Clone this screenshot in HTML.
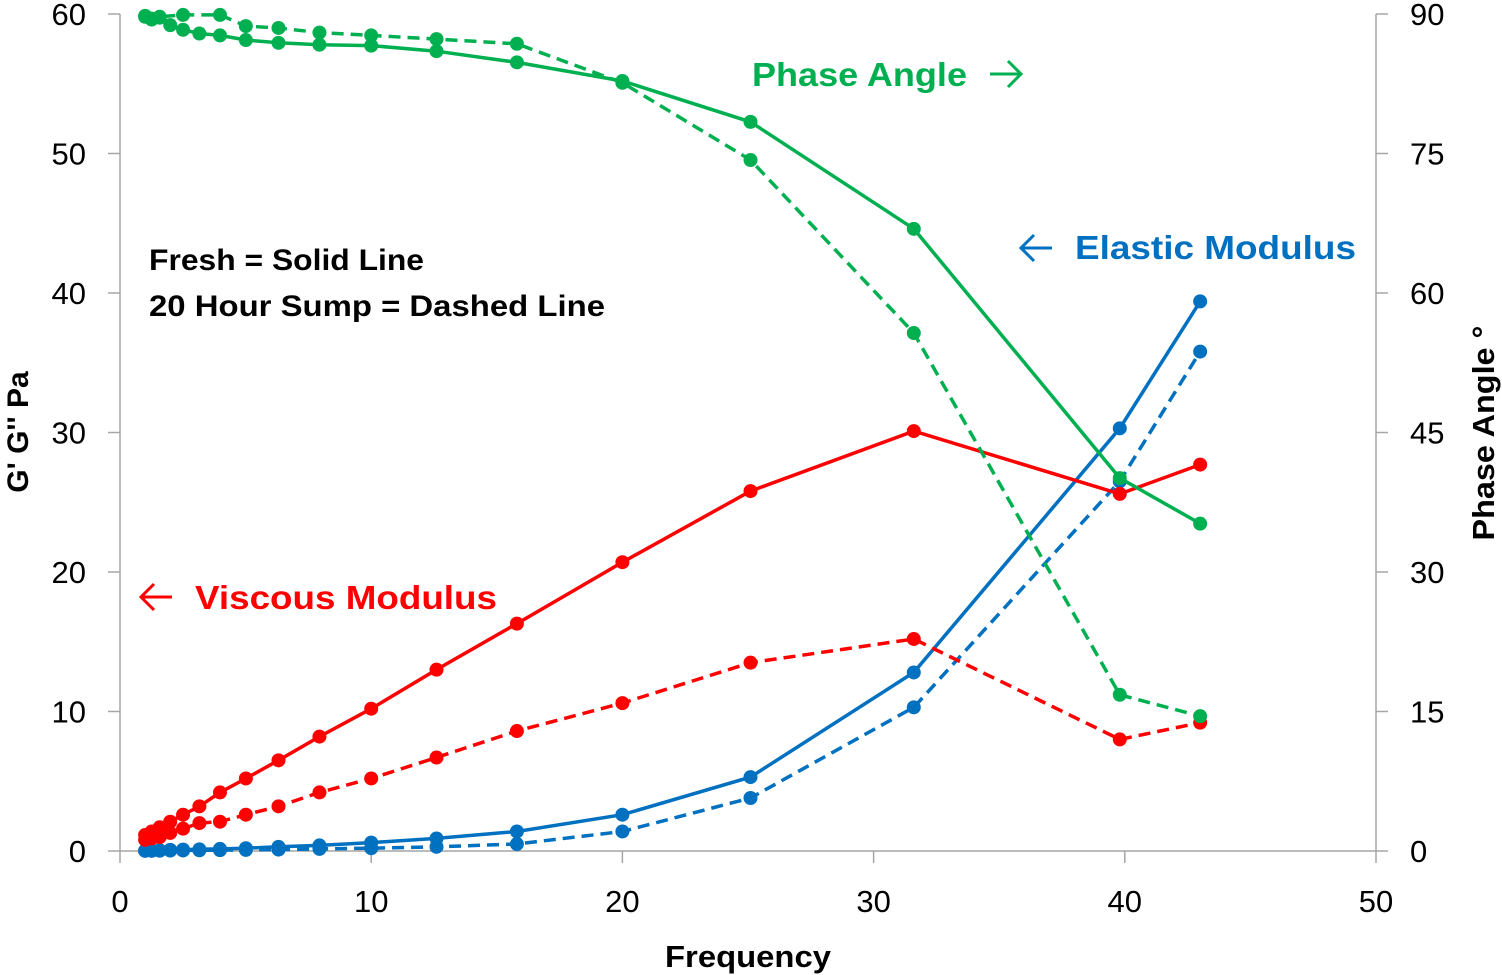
<!DOCTYPE html>
<html><head><meta charset="utf-8"><style>
html,body{margin:0;padding:0;background:#fff;}
svg{display:block;font-family:"Liberation Sans",sans-serif;}
</style></head><body>
<svg id="chart" width="1502" height="975" viewBox="0 0 1502 975">
<g id="axes"></g><g id="series"></g>
<text x="149" y="270" font-size="30" font-weight="bold" fill="#000" textLength="275" lengthAdjust="spacingAndGlyphs">Fresh = Solid Line</text>
<text x="149" y="316" font-size="30" font-weight="bold" fill="#000" textLength="456" lengthAdjust="spacingAndGlyphs">20 Hour Sump = Dashed Line</text>
<text x="752" y="86" font-size="33" font-weight="bold" fill="#00b050" textLength="215" lengthAdjust="spacingAndGlyphs">Phase Angle</text>
<path d="M990 74 H1021 M1008 61 L1021 74 L1008 87" stroke="#00b050" stroke-width="3" fill="none"/>
<path d="M1052 248 H1021 M1034 235 L1021 248 L1034 261" stroke="#0070c0" stroke-width="3" fill="none"/>
<text x="1075" y="259" font-size="33" font-weight="bold" fill="#0070c0" textLength="281" lengthAdjust="spacingAndGlyphs">Elastic Modulus</text>
<path d="M172 597 H141 M154 584 L141 597 L154 610" stroke="#ff0000" stroke-width="3" fill="none"/>
<text x="195" y="609" font-size="33" font-weight="bold" fill="#ff0000" textLength="302" lengthAdjust="spacingAndGlyphs">Viscous Modulus</text>
<text x="748" y="967" font-size="31" font-weight="bold" text-anchor="middle" textLength="166" lengthAdjust="spacingAndGlyphs">Frequency</text>
<text transform="translate(28,432) rotate(-90)" font-size="30" font-weight="bold" text-anchor="middle">G' G'' Pa</text>
<text transform="translate(1494,433) rotate(-90)" font-size="31" font-weight="bold" text-anchor="middle" textLength="215" lengthAdjust="spacingAndGlyphs">Phase Angle °</text>
</svg>
<script>
const freq = [1,1.26,1.58,2,2.51,3.16,3.98,5.01,6.31,7.94,10,12.6,15.8,20,25.1,31.6,39.8,43];
const phaseFresh = [89.7,89.4,89.6,88.8,88.3,87.9,87.7,87.2,86.9,86.7,86.6,86.0,84.8,82.8,78.4,66.9,40.1,35.2];
const freqPhaseSump = [1,1.26,1.58,2.51,3.98,5.01,6.31,7.94,10,12.6,15.8,20,25.1,31.6,39.8,43];
const phaseSump = [89.8,89.5,89.7,89.9,89.9,88.7,88.5,88.0,87.7,87.3,86.8,82.6,74.3,55.7,16.8,14.5];
const viscousFresh = [1.15,1.4,1.7,2.1,2.6,3.2,4.2,5.2,6.5,8.2,10.2,13.0,16.3,20.7,25.8,30.1,25.6,27.7];
const viscousSump = [0.8,0.9,1.0,1.3,1.6,2.0,2.1,2.6,3.2,4.2,5.2,6.7,8.6,10.6,13.5,15.2,8.0,9.2];
const elasticFresh = [0.02,0.03,0.05,0.08,0.1,0.12,0.15,0.2,0.3,0.4,0.6,0.9,1.4,2.6,5.3,12.8,30.3,39.4];
const elasticSump = [0.01,0.01,0.02,0.03,0.04,0.05,0.06,0.08,0.1,0.15,0.2,0.3,0.5,1.4,3.8,10.3,26.5,35.8];
const xTicks = [0,10,20,30,40,50];
const yTicks = [0,10,20,30,40,50,60];
const y2Ticks = [0,15,30,45,60,75,90];

const X0=120,X1=1376,Y0=851,Y1=14;
const xs=v=>X0+(X1-X0)*v/50;
const ys=v=>Y0-(Y0-Y1)*v/60;
const y2s=v=>Y0-(Y0-Y1)*v/90;
const NS="http://www.w3.org/2000/svg";
function mk(tag,attrs,parent){const e=document.createElementNS(NS,tag);for(const k in attrs)e.setAttribute(k,attrs[k]);parent.appendChild(e);return e;}
const ax=document.getElementById('axes');
const gray="#a6a6a6";
let l;
l=mk('line',{x1:X0,y1:Y1,x2:X0,y2:Y0,stroke:gray,'stroke-width':1.5},ax);


l=mk('line',{x1:X1,y1:Y1,x2:X1,y2:Y0,stroke:gray,'stroke-width':1.5},ax);


l=mk('line',{x1:X0,y1:Y0,x2:X1,y2:Y0,stroke:gray,'stroke-width':1.5},ax);


xTicks.forEach(t=>{
  const x=xs(t);
  const tk=mk('line',{x1:x,y1:Y0,x2:x,y2:Y0+12,stroke:gray,'stroke-width':1.5},ax);
  
  
  const tx=mk('text',{x:x,y:912,'font-size':31,'text-anchor':'middle',fill:'#000'},ax);
  tx.textContent=t;
  
  
});
yTicks.forEach(t=>{
  const y=ys(t);
  const tk=mk('line',{x1:X0-12,y1:y,x2:X0,y2:y,stroke:gray,'stroke-width':1.5},ax);
  
  
  const tx=mk('text',{x:86,y:y+11,'font-size':31,'text-anchor':'end',fill:'#000'},ax);
  tx.textContent=t;
  
  
});
y2Ticks.forEach(t=>{
  const y=y2s(t);
  const tk=mk('line',{x1:X1,y1:y,x2:X1+12,y2:y,stroke:gray,'stroke-width':1.5},ax);
  
  
  const tx=mk('text',{x:1410,y:y+11,'font-size':31,'text-anchor':'start',fill:'#000'},ax);
  tx.textContent=t;
  
  
});
const sg=document.getElementById('series');
function series(xv,yv,yscale,color,dashed,name){
  const g=mk('g',{},sg);
  
  
  const pts=xv.map((f,i)=>xs(f).toFixed(1)+','+yscale(yv[i]).toFixed(1)).join(' ');
  const p=mk('polyline',{points:pts,fill:'none',stroke:color,'stroke-width':3.5,'stroke-dasharray':dashed?'12,7':'none'},g);
  
  
  xv.forEach((f,i)=>{
    const c=mk('circle',{cx:xs(f),cy:yscale(yv[i]),r:7,fill:color},g);
    
    
  });
}
series(freq,elasticSump,ys,'#0070c0',true,'elastic-sump-series');
series(freq,elasticFresh,ys,'#0070c0',false,'elastic-fresh-series');
series(freq,viscousSump,ys,'#ff0000',true,'viscous-sump-series');
series(freq,viscousFresh,ys,'#ff0000',false,'viscous-fresh-series');
series(freqPhaseSump,phaseSump,y2s,'#00b050',true,'phase-sump-series');
series(freq,phaseFresh,y2s,'#00b050',false,'phase-fresh-series');
</script>
</body></html>
